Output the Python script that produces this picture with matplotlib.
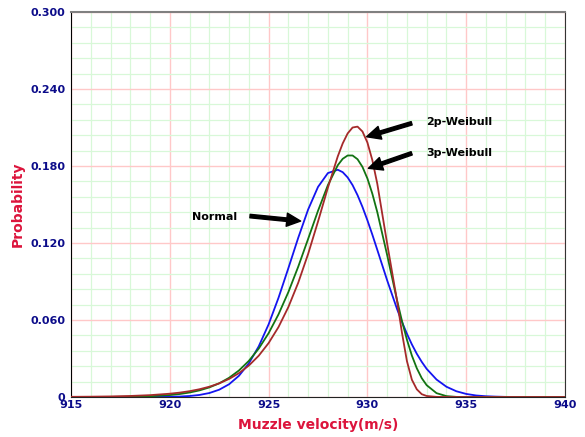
import numpy as np
import matplotlib
matplotlib.use("Agg")
import matplotlib.pyplot as plt
from matplotlib.ticker import MultipleLocator, FuncFormatter

# muzzle velocity grid (m/s)
velocity = [915, 916, 917, 918, 919, 920, 920.5, 921, 921.5, 922, 922.5, 923, 923.5,
            924, 924.5, 925, 925.5, 926, 926.5, 927, 927.5, 928, 928.5, 928.75, 929,
            929.25, 929.5, 929.75, 930, 930.25, 930.5, 931, 931.5, 931.75, 932, 932.25,
            932.5, 932.75, 933, 933.5, 934, 934.5, 935, 935.5, 936, 936.5, 937, 938,
            939, 940]

# probability curves
normal = [0, 0, 0, 0.0, 0.00003, 0.00017, 0.00037, 0.00079, 0.00161, 0.0031, 0.0057,
          0.00995, 0.01655, 0.02621, 0.03947, 0.05661, 0.07727, 0.1004, 0.1241, 0.1461,
          0.1637, 0.1745, 0.1771, 0.1752, 0.1711, 0.1651, 0.1573, 0.1481, 0.1377, 0.1265,
          0.1147, 0.0909, 0.0686, 0.0585, 0.0493, 0.0410, 0.0337, 0.0274, 0.0219, 0.0136,
          0.0080, 0.0045, 0.0024, 0.0012, 0.0006, 0.0003, 0.0001, 0, 0, 0]

weibull_2p = [0.00015, 0.00026, 0.00046, 0.00082, 0.00145, 0.00258, 0.00342, 0.00455,
              0.00605, 0.00803, 0.01064, 0.01409, 0.01861, 0.02451, 0.03218, 0.04203,
              0.0545, 0.0701, 0.0891, 0.1115, 0.1367, 0.1631, 0.1875, 0.1976, 0.2054,
              0.2100, 0.2107, 0.2069, 0.1983, 0.1846, 0.1662, 0.1195, 0.0750, 0.0500,
              0.0280, 0.0135, 0.0060, 0.0022, 0.0008, 0.0001, 0, 0, 0, 0, 0, 0, 0, 0, 0, 0]

weibull_3p = [0.0, 0.00002, 0.00007, 0.00022, 0.00061, 0.00152, 0.00233, 0.0035, 0.00516,
              0.00748, 0.01067, 0.01497, 0.02069, 0.02816, 0.03773, 0.04973, 0.06439,
              0.08177, 0.1016, 0.1232, 0.1451, 0.1651, 0.1806, 0.1856, 0.1882, 0.1882,
              0.1853, 0.1793, 0.1703, 0.1584, 0.1441, 0.1106, 0.0754, 0.0592, 0.0447,
              0.0323, 0.0224, 0.0147, 0.0092, 0.0030, 0.0007, 0.0001, 0, 0, 0, 0, 0, 0, 0, 0]

# label text, label position, arrow tail, arrow head
annotations = [
    ("2p-Weibull", (932.97, 0.2145), (932.24, 0.2133), (929.96, 0.2028)),
    ("3p-Weibull", (932.97, 0.1904), (932.24, 0.1899), (930.05, 0.1782)),
    ("Normal", (923.40, 0.1405), (924.06, 0.1410), (926.62, 0.1371)),
]

tick_color = "#0C0C8A"
label_color = "#DC143C"

fig = plt.figure(figsize=(5.85, 4.37), dpi=100)
ax = fig.add_axes([0.1214, 0.0915, 0.8444, 0.881])

ax.plot(velocity, normal, color="#1414F0", lw=1.3, zorder=4)
ax.plot(velocity, weibull_3p, color="#127312", lw=1.3, zorder=4)
ax.plot(velocity, weibull_2p, color="#A52A2A", lw=1.3, zorder=4)

ax.set_xlim(915, 940)
ax.set_ylim(0, 0.3)
ax.xaxis.set_major_locator(MultipleLocator(5))
ax.xaxis.set_minor_locator(MultipleLocator(1))
ax.yaxis.set_major_locator(MultipleLocator(0.06))
ax.yaxis.set_minor_locator(MultipleLocator(0.012))
ax.yaxis.set_major_formatter(FuncFormatter(lambda v, p: "0" if abs(v) < 1e-9 else f"{v:.3f}"))

ax.grid(which="minor", color="#D8F8D8", lw=0.9, zorder=0)
ax.grid(which="major", color="#FFC8C8", lw=1.0, zorder=1)
ax.set_axisbelow(True)

ax.tick_params(which="both", length=0)
ax.tick_params(axis="y", pad=4, labelsize=8, labelcolor=tick_color)
ax.tick_params(axis="x", pad=2, labelsize=8, labelcolor=tick_color)
for lab in ax.get_xticklabels() + ax.get_yticklabels():
    lab.set_fontweight("bold")

ax.spines["left"].set_color("black")
ax.spines["bottom"].set_color("#222222")
ax.spines["top"].set_color("#808080")
ax.spines["top"].set_linewidth(1.5)
ax.spines["right"].set_color("#333333")

ax.set_xlabel("Muzzle velocity(m/s)", fontsize=10, fontweight="bold", color=label_color, labelpad=6)
ax.set_ylabel("Probability", fontsize=10, fontweight="bold", color=label_color, labelpad=4)

for text, text_pos, tail, head in annotations:
    ha = "right" if text == "Normal" else "left"
    ax.text(text_pos[0], text_pos[1], text, fontsize=8, fontweight="bold",
            ha=ha, va="center", zorder=6)
    ax.annotate("", xy=head, xytext=tail,
                arrowprops=dict(facecolor="black", edgecolor="black", width=2.5,
                                headwidth=9.5, headlength=10, shrink=0), zorder=6)

fig.savefig("out.png", dpi=100)
